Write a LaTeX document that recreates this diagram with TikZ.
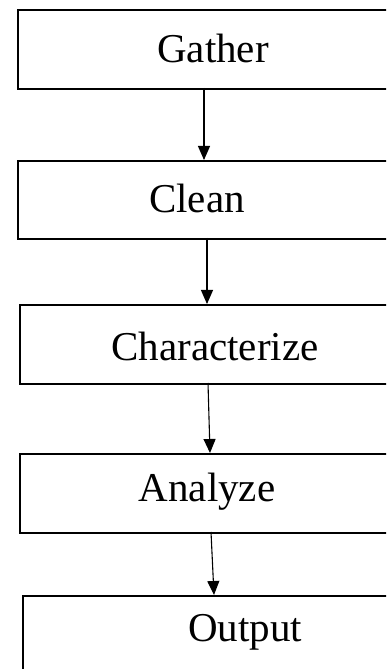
\documentclass[tikz,border=0pt]{standalone}
\usepackage{fontspec}
\setmainfont{Liberation Serif}
\usetikzlibrary{arrows.meta}
\tikzset{
	box/.style={draw,line width=1.8pt,anchor=north west,minimum width=420pt,inner sep=0pt},
	lbl/.style={font=\fontsize{41}{45}\selectfont,inner sep=0pt},
	arr/.style={line width=1.1pt,-{Triangle[width=12pt,length=14pt]}}
}
\begin{document}
\begin{tikzpicture}[x=1pt,y=1pt]
			\useasboundingbox (0,0) rectangle (386,669);
			\clip (0,0) rectangle (386,669);
			%\fill[gray!10] (0,0) rectangle (386,669);
			\node[box,minimum height=79pt] (gather) at (17,660) {};
			\node[box,minimum height=78pt] (clean) at (17,509) {};
			\node[box,minimum height=79pt] (charac) at (19,365) {};
			\node[box,minimum height=79pt] (analyze) at (19,216) {};
			\node[box,minimum height=90pt] (output) at (22,74) {};
			\node[lbl] (tgather) at (213,621) {Gather};
			\node[lbl] (tclean) at (197,471) {Clean};
			\node[lbl] (tcharac) at (215,323) {Characterize};
			\node[lbl] (tanalyze) at (207,177) {Analyze};
			\node[lbl] (toutput) at (245,37) {Output};
			\coordinate (a1) at (204,581);
			\coordinate (b1) at (204,509);
			\coordinate (a2) at (207,431);
			\coordinate (b2) at (207,365);
			\coordinate (a3) at (208,286);
			\coordinate (b3) at (210,216);
			\coordinate (a4) at (211,137);
			\coordinate (b4) at (214,74);
			\draw[arr] (a1) to (b1);
			\draw[arr] (a2) to (b2);
			\draw[arr] (a3) to (b3);
			\draw[arr] (a4) to (b4);
		\end{tikzpicture}
\end{document}
